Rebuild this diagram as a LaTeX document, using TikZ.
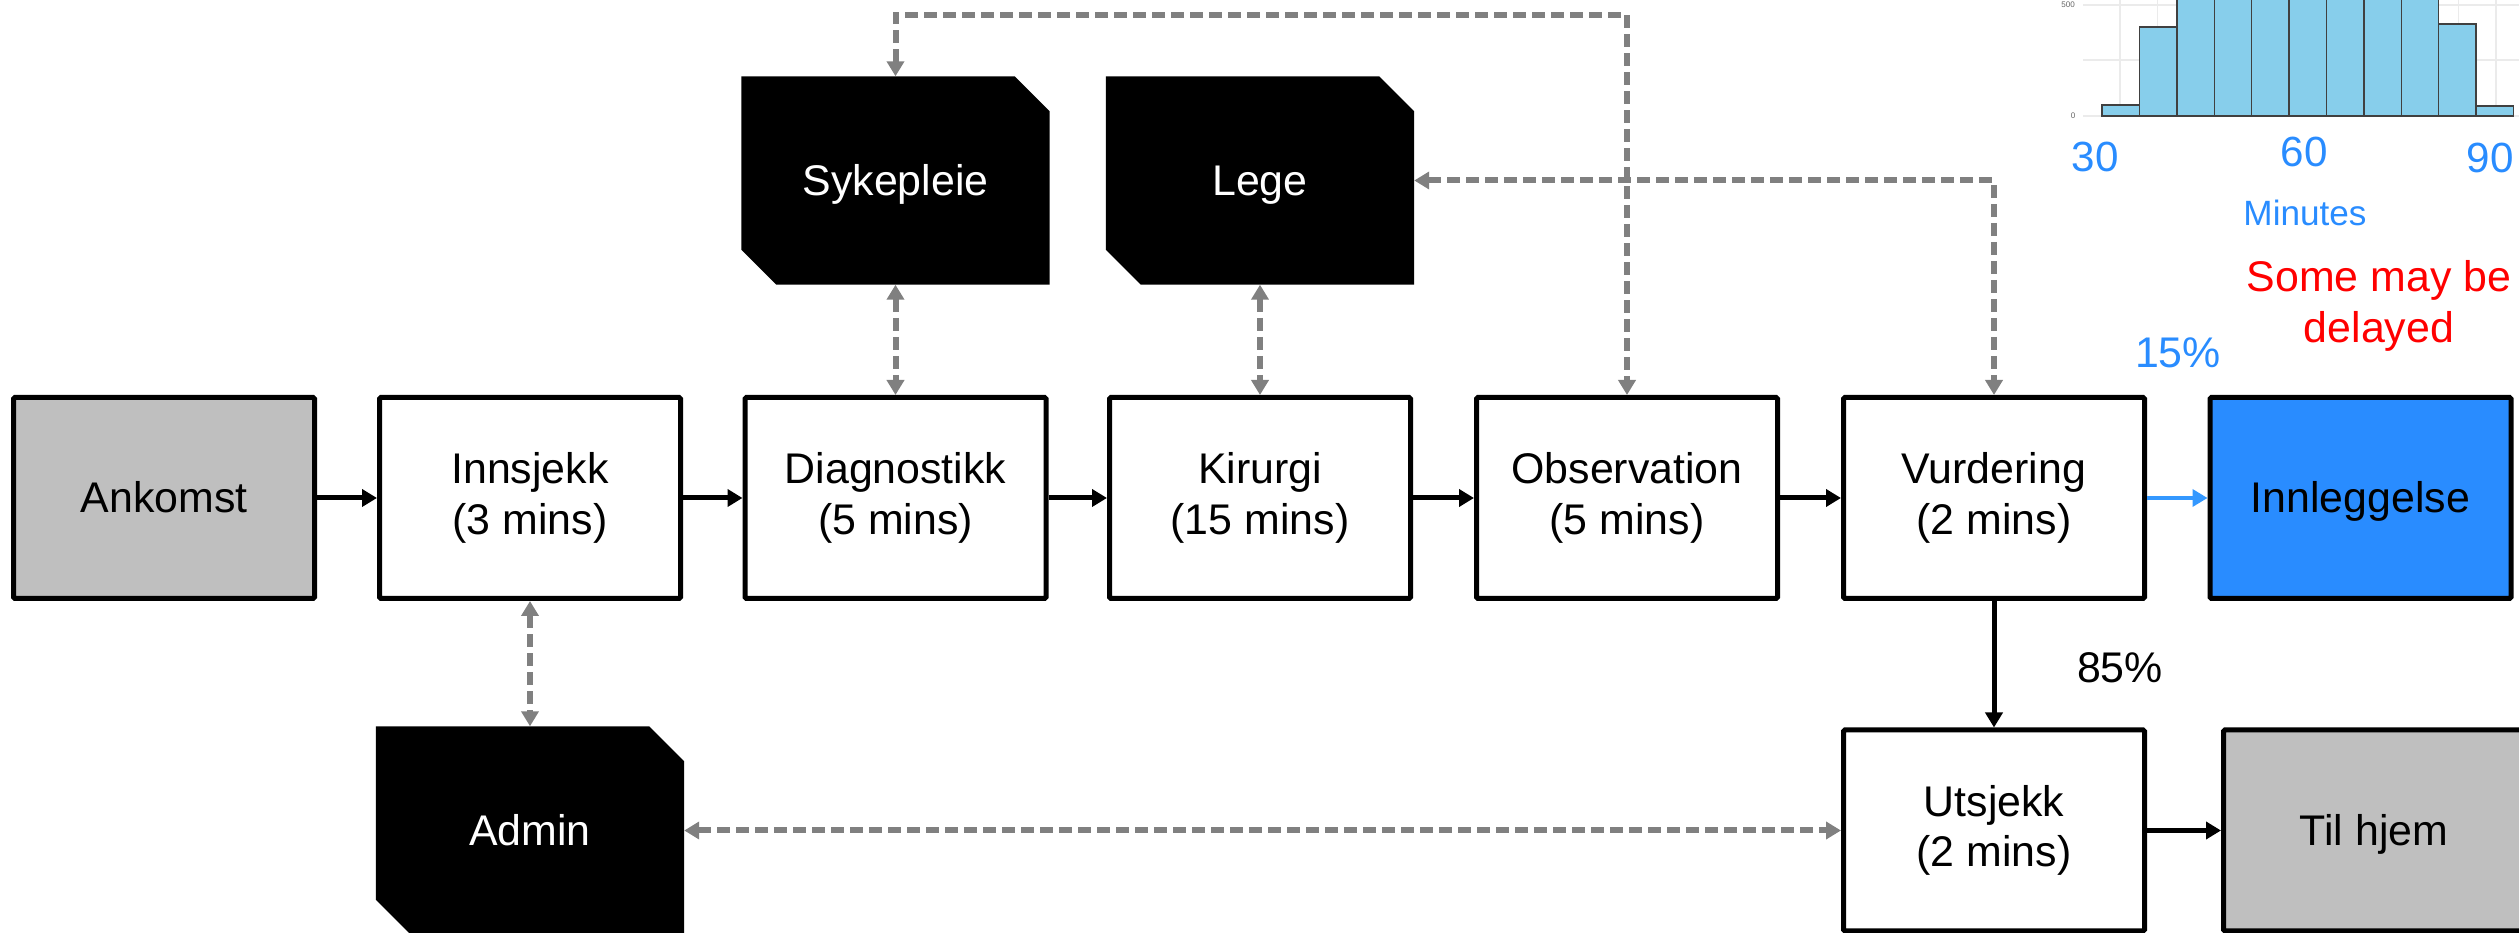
\documentclass[tikz,border=0pt]{standalone}
\usepackage{fontspec}
\setmainfont{Liberation Sans}
\usepackage{xcolor}
\usetikzlibrary{arrows.meta, positioning, backgrounds}

\definecolor{endgray}{RGB}{191,191,191}
\definecolor{admitblue}{RGB}{41,140,255}
\definecolor{linkblue}{RGB}{52,152,255}
\definecolor{resgray}{RGB}{128,128,128}
\definecolor{barblue}{RGB}{135,206,235}
\definecolor{gridgray}{RGB}{235,235,235}
\newcommand{\linestrut}{\vrule width 0pt height 0.905em depth 0.212em}
\newcommand{\tallstrut}{\vrule width 0pt height 1.15em depth 0pt}

\begin{document}
\begin{tikzpicture}[
        every node/.style={font=\fontsize{12.2}{14.3}\selectfont, align=center,
            execute at begin node=\linestrut, execute at end node=\linestrut},
        boxbase/.style={draw, line width=0.05cm, rounded corners=0.4pt,
            minimum width=3.01cm, minimum height=2.01cm},
        stepbox/.style={boxbase, fill=white, execute at begin node=\tallstrut},
        endbox/.style={boxbase, fill=endgray},
        admitbox/.style={boxbase, fill=admitblue},
        resbox/.style={minimum width=3.07cm, minimum height=2.07cm, text=white},
        flowarrow/.style={line width=0.05cm, -{Triangle[length=0.15cm, width=0.17cm]}},
        resline/.style={resgray, line width=0.06cm, dash pattern=on 0.13cm off 0.06cm,
            {Triangle[length=0.15cm, width=0.17cm]}-{Triangle[length=0.15cm, width=0.17cm]}},
    ]
    \useasboundingbox (0,0) rectangle (25.19,9.32);
    \clip (0,0) rectangle (25.19,9.32);

    % histogram of the length of stay
    \foreach \i in {0,...,10}
        \draw[gridgray, line width=0.5pt] ({21.20+0.376*\i},8.16) -- ++(0,1.3);
    \foreach \y in {8.16, 8.72, 9.27}
        \draw[gridgray, line width=0.5pt] (20.83,\y) -- (25.19,\y);
    \foreach \h [count=\i from 0] in {0.11, 0.89, 1.6, 1.7, 1.75, 1.75, 1.7, 1.6, 1.5, 0.92, 0.10}
        \filldraw[fill=barblue, draw=black!75, line width=0.4pt] ({21.02+0.374*\i},8.16) rectangle ++(0.374,\h);
    \node[font=\fontsize{2.3}{2.6}\selectfont, text=black!60] (y500) at (20.68,9.27) {500};
    \node[font=\fontsize{2.3}{2.6}\selectfont, text=black!60] (y0) at (20.73,8.16) {0};
    \node[text=admitblue, font=\fontsize{12}{14}\selectfont] (x30) at (20.95,7.75) {30};
    \node[text=admitblue, font=\fontsize{12}{14}\selectfont] (x60) at (23.04,7.80) {60};
    \node[text=admitblue, font=\fontsize{12}{14}\selectfont] (x90) at (24.90,7.74) {90};
    \node[text=admitblue, font=\fontsize{10}{12}\selectfont] (xlab) at (23.05,7.19) {Minutes};

    % patient flow
    \node[endbox] (ank) at (1.64,4.34) {Ankomst};
    \node[stepbox] (inn) at (5.30,4.34) {Innsjekk\\(3 mins)};
    \node[stepbox] (diag) at (8.955,4.34) {Diagnostikk\\(5 mins)};
    \node[stepbox] (kir) at (12.60,4.34) {Kirurgi\\(15 mins)};
    \node[stepbox] (obs) at (16.27,4.34) {Observation\\(5 mins)};
    \node[stepbox] (vurd) at (19.94,4.34) {Vurdering\\(2 mins)};
    \node[admitbox] (innl) at (23.605,4.34) {Innleggelse};
    \node[stepbox] (ut) at (19.94,1.015) {Utsjekk\\(2 mins)};
    \node[endbox] (hjem) at (23.74,1.015) {Til hjem};

    % resources
    \node[resbox] (syk) at (8.955,7.515) {Sykepleie};
    \node[resbox] (lege) at (12.60,7.515) {Lege};
    \node[resbox] (adm) at (5.30,1.015) {Admin};
    \begin{scope}[on background layer]
        \foreach \r in {syk, lege, adm}
            \fill (\r.north west) -- ([xshift=-0.35cm]\r.north east) -- ([yshift=-0.35cm]\r.north east)
                -- (\r.south east) -- ([xshift=0.35cm]\r.south west) -- ([yshift=0.35cm]\r.south west) -- cycle;
    \end{scope}

    \node[text=admitblue] (p15) at (21.78,5.79) {15\%};
    \node (p85) at (21.20,2.64) {85\%};
    \node[text=red] (late) at (23.79,6.26) {Some may be\\delayed};

    \draw[flowarrow] (ank) -- (inn);
    \draw[flowarrow] (inn) -- (diag);
    \draw[flowarrow] (diag) -- (kir);
    \draw[flowarrow] (kir) -- (obs);
    \draw[flowarrow] (obs) -- (vurd);
    \draw[flowarrow, linkblue, line width=0.035cm] (vurd) -- (innl);
    \draw[flowarrow] (vurd) -- (ut);
    \draw[flowarrow] (ut) -- (hjem);

    \coordinate (rail) at (0,9.17);
    \draw[resline] (syk) -- (diag);
    \draw[resline] (lege) -- (kir);
    \draw[resline] (inn) -- (adm);
    \draw[resline] (adm) -- (ut);
    \draw[resline] (syk.north) -- (syk.north |- rail) -| (obs.north);
    \draw[resline] (lege.east) -| (vurd.north);
\end{tikzpicture}
\end{document}
